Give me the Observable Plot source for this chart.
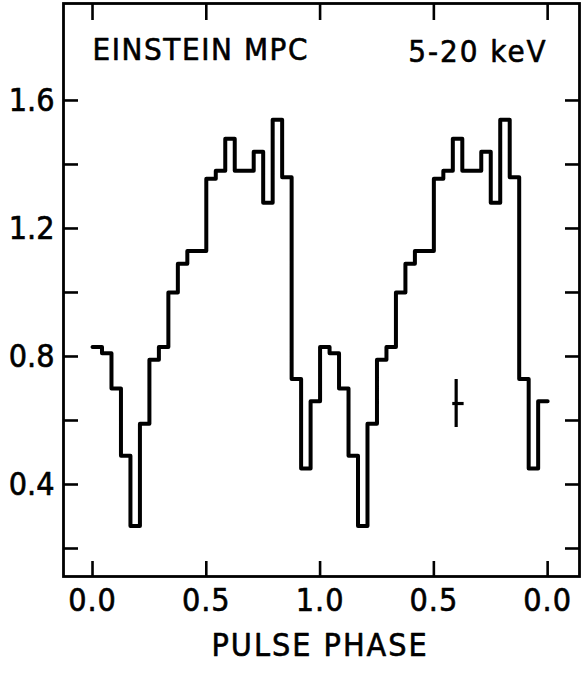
<!DOCTYPE html>
<html><head><meta charset="utf-8">
<script src="https://cdn.jsdelivr.net/npm/d3@7"></script>
<script src="https://cdn.jsdelivr.net/npm/@observablehq/plot@0.6"></script>
<style>
html,body{margin:0;padding:0;background:#fff;}
#chart svg{display:block;}
</style></head><body><div id="chart"></div>
<script>
// ---- data ----
const binsPerCycle = 24;
const cycleRates = [0.83, 0.81, 0.70, 0.49, 0.27, 0.59, 0.79, 0.83, 1.00, 1.09, 1.13, 1.13,
                    1.355, 1.38, 1.48, 1.38, 1.38, 1.44, 1.28, 1.54, 1.36, 0.73, 0.45, 0.66];
const cycles = [0, 1];
const phaseTicks = [0, 0.5, 1, 1.5, 2];
const phaseTickLabels = ["0.0", "0.5", "1.0", "0.5", "0.0"];
const rateTicks = [0.2, 0.4, 0.6, 0.8, 1.0, 1.2, 1.4, 1.6];
const rateLabelTicks = [0.4, 0.8, 1.2, 1.6];
const rateLabels = ["0.4", "0.8", "1.2", "1.6"];
const errorBar = [{phase: 1.598, phaseLo: 1.583, phaseHi: 1.633, rate: 0.653, rateLo: 0.578, rateHi: 0.728}];
const titleLeft = "EINSTEIN MPC";
const titleRight = "5-20 keV";
const xLabel = "PULSE PHASE";
const xDomain = [-0.1275, 2.14];
const yDomain = [0.1125, 1.903];

// ---- build step table ----
const steps = [];
for (const c of cycles) cycleRates.forEach((r, i) => steps.push({phase: c + i / binsPerCycle, rate: r}));
steps.push({phase: cycles.length, rate: cycleRates[cycleRates.length - 1]});

const xTickRows = phaseTicks.map((p, i) => ({phase: p, label: phaseTickLabels[i]}));
const yTickRows = rateLabelTicks.map((v, i) => ({rate: v, label: rateLabels[i]}));

const FONT = "'Liberation Sans Narrow', 'DejaVu Sans Condensed', 'Liberation Sans', sans-serif";
const txt = {fill: "black", stroke: "black", strokeWidth: 0.6};

const chart = Plot.plot({
  width: 585, height: 677,
  marginLeft: 63, marginRight: 6, marginTop: 3, marginBottom: 101,
  x: {domain: xDomain, axis: null},
  y: {domain: yDomain, axis: null},
  style: {fontFamily: FONT, background: "white", color: "black"},
  marks: [
    Plot.frame({stroke: "black", strokeWidth: 2.8}),
    Plot.axisY(rateTicks, {anchor: "left", tickSize: -15, tickFormat: () => "", label: null, strokeWidth: 2.6}),
    Plot.axisY(rateTicks, {anchor: "right", tickSize: -15, tickFormat: () => "", label: null, strokeWidth: 2.6}),
    Plot.axisX(phaseTicks, {anchor: "bottom", tickSize: -15, tickFormat: () => "", label: null, strokeWidth: 2.6}),
    Plot.axisX(phaseTicks, {anchor: "top", tickSize: -16, tickFormat: () => "", label: null, strokeWidth: 2.6}),
    Plot.line(steps, {x: "phase", y: "rate", curve: "step-after", stroke: "black", strokeWidth: 4, strokeLinejoin: "round", strokeLinecap: "round"}),
    Plot.ruleX(errorBar, {x: "phase", y1: "rateLo", y2: "rateHi", stroke: "black", strokeWidth: 3.2}),
    Plot.ruleY(errorBar, {y: "rate", x1: "phaseLo", x2: "phaseHi", stroke: "black", strokeWidth: 3.2}),
    Plot.text(yTickRows, {...txt, x: () => xDomain[0], y: "rate", text: "label", dx: -9, textAnchor: "end", fontSize: 32}),
    Plot.text(xTickRows, {...txt, x: "phase", y: () => yDomain[0], text: "label", dy: 24, fontSize: 32}),
    Plot.text([xLabel], {...txt, x: () => 1, y: () => yDomain[0], text: d => d, dy: 69, fontSize: 32}),
    Plot.text([titleLeft], {...txt, x: () => 0, y: () => yDomain[1], text: d => d, dy: 47, textAnchor: "start", fontSize: 31}),
    Plot.text([titleRight], {...txt, x: () => 2, y: () => yDomain[1], text: d => d, dy: 49, textAnchor: "end", fontSize: 31})
  ]
});
// letter spacing per text mark (in mark order: y labels, x labels, x title, left title, right title)
const spacing = [0, 1, 2, 1.6, 2];
d3.select(chart).selectAll('g[aria-label="text"]').each(function(_, i) {
  d3.select(this).selectAll("text").style("letter-spacing", (spacing[i] || 0) + "px");
});
document.getElementById("chart").appendChild(chart);
</script></body></html>
